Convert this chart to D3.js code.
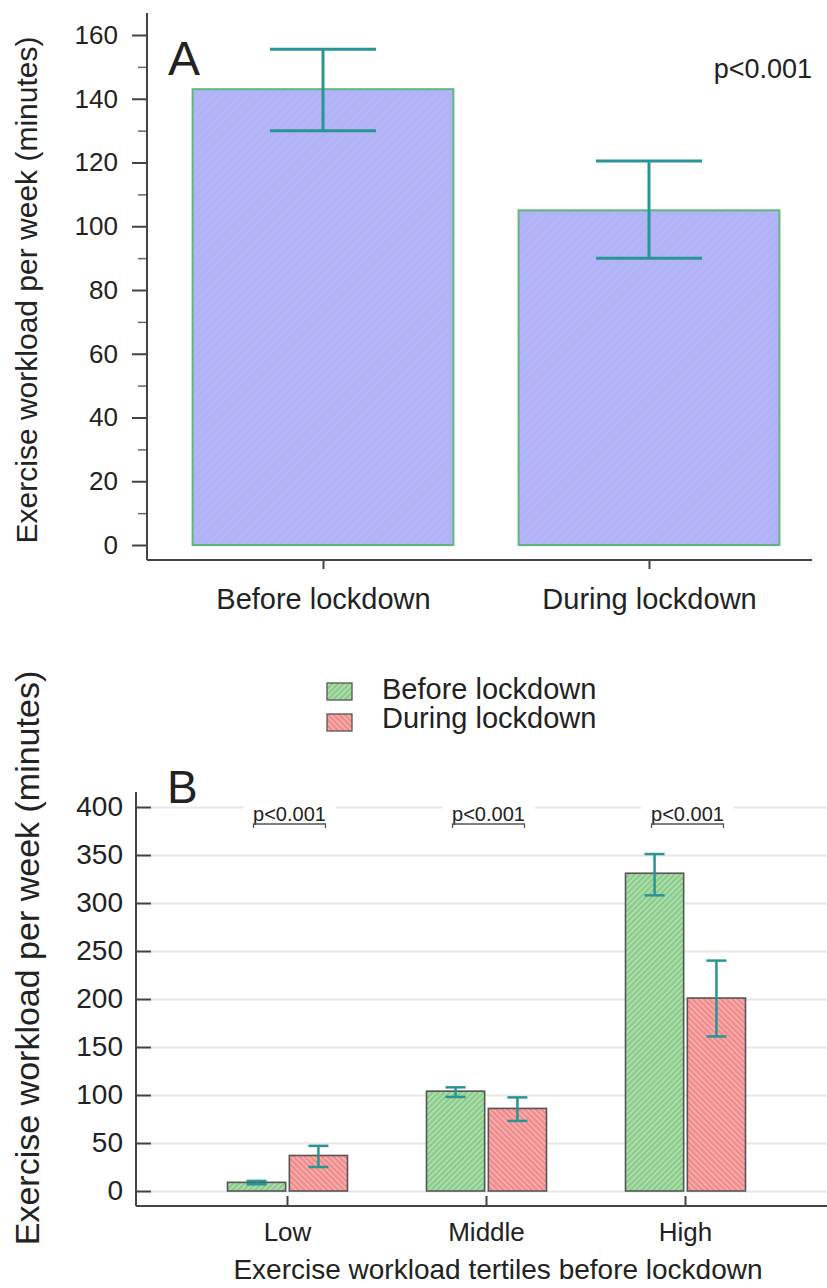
<!DOCTYPE html>
<html lang="en">
<head>
<meta charset="utf-8">
<title>Exercise workload before and during lockdown</title>
<script src="https://d3js.org/d3.v7.min.js"></script>
<style>
  body { margin: 0; background: #fff; }
  svg { font-family: "Liberation Sans", Arial, sans-serif; }
  text { fill: #222; }
</style>
</head>
<body>
<div id="chart"></div>
<script>
// ---- data (panel A) ----
var periods = ["Before lockdown", "During lockdown"];
var meanA = [143, 105];
var lowA = [130, 90];
var highA = [155.5, 120.5];
var ticksA = [0, 20, 40, 60, 80, 100, 120, 140, 160];

// ---- data (panel B) ----
var tertiles = ["Low", "Middle", "High"];
var series = ["Before lockdown", "During lockdown"];
var beforeB = [9, 104, 331];
var beforeLowB = [7, 98, 308];
var beforeHighB = [10.5, 108, 351];
var duringB = [37, 86, 201];
var duringLowB = [25, 73, 161];
var duringHighB = [47, 97.5, 240];
var pLabels = ["p<0.001", "p<0.001", "p<0.001"];
var ticksB = [0, 50, 100, 150, 200, 250, 300, 350, 400];

var W = 827, H = 1288;
var svg = d3.select("#chart").append("svg").attr("width", W).attr("height", H);

// hatching patterns
var defs = svg.append("defs");
function hatch(id, base, line, dir, gap, lw) {
  var p = defs.append("pattern").attr("id", id)
    .attr("patternUnits", "userSpaceOnUse")
    .attr("width", gap).attr("height", gap)
    .attr("patternTransform", "rotate(" + dir + ")");
  p.append("rect").attr("width", gap).attr("height", gap).attr("fill", base);
  p.append("line").attr("x1", 0).attr("y1", 0).attr("x2", 0).attr("y2", gap)
    .attr("stroke", line).attr("stroke-width", lw);
}
hatch("hatchA", "#b4b4f8", "#aeaef0", 45, 6, 2);
hatch("hatchGreen", "#8fcd8f", "#c8ecc4", 45, 4, 1.7);
hatch("hatchRed", "#f28e8e", "#fcc8c8", -45, 4, 1.7);

var errColor = "#2a9494";

// ================= Panel A =================
var xA = d3.scalePoint().domain(periods).range([160, 812]).padding(0.5);
var yA = d3.scaleLinear().domain([0, 160]).range([545, 35]);
var axisLeftA = 147, axisBottomA = 560;
var bwA = xA.step() * 0.8;

var gA = svg.append("g");

// y axis: minor + major ticks, outside
gA.append("g").attr("transform", "translate(" + axisLeftA + ",0)")
  .call(d3.axisLeft(yA).tickValues(d3.range(10, 160, 20)).tickSize(9).tickFormat(""))
  .call(function(g) { g.select(".domain").remove(); g.selectAll("line").attr("stroke", "#666").attr("stroke-width", 1.5); });
gA.append("g").attr("transform", "translate(" + axisLeftA + ",0)")
  .call(d3.axisLeft(yA).tickValues(ticksA).tickSize(15).tickPadding(14))
  .call(function(g) {
    g.select(".domain").remove();
    g.selectAll("line").attr("stroke", "#444").attr("stroke-width", 2);
    g.selectAll("text").style("font-size", "26px").attr("fill", "#222");
  });
gA.append("line").attr("x1", axisLeftA).attr("x2", axisLeftA).attr("y1", 13).attr("y2", axisBottomA)
  .attr("stroke", "#444").attr("stroke-width", 2);
gA.append("line").attr("x1", axisLeftA).attr("x2", 812).attr("y1", axisBottomA).attr("y2", axisBottomA)
  .attr("stroke", "#444").attr("stroke-width", 2);

// x axis ticks and labels
gA.append("g").attr("transform", "translate(0," + axisBottomA + ")")
  .call(d3.axisBottom(xA).tickSize(9).tickPadding(19))
  .call(function(g) {
    g.select(".domain").remove();
    g.selectAll("line").attr("stroke", "#444").attr("stroke-width", 2);
    g.selectAll("text").style("font-size", "29px").attr("fill", "#222");
  });

// bars
gA.selectAll(".barA").data(periods).enter().append("rect")
  .attr("x", function(d) { return xA(d) - bwA / 2; })
  .attr("width", bwA)
  .attr("y", function(d, i) { return yA(meanA[i]); })
  .attr("height", function(d, i) { return yA(0) - yA(meanA[i]); })
  .attr("fill", "url(#hatchA)")
  .attr("stroke", "#5fb77c").attr("stroke-width", 2);

// error bars
periods.forEach(function(d, i) {
  var cx = xA(d), cw = 53;
  gA.append("line").attr("x1", cx).attr("x2", cx).attr("y1", yA(highA[i])).attr("y2", yA(lowA[i]))
    .attr("stroke", errColor).attr("stroke-width", 3);
  [highA[i], lowA[i]].forEach(function(v) {
    gA.append("line").attr("x1", cx - cw).attr("x2", cx + cw).attr("y1", yA(v)).attr("y2", yA(v))
      .attr("stroke", errColor).attr("stroke-width", 3);
  });
});

gA.append("text").attr("x", 168).attr("y", 75).style("font-size", "48px").text("A");
gA.append("text").attr("x", 812).attr("y", 78).attr("text-anchor", "end").style("font-size", "27px").text("p<0.001");
gA.append("text").attr("transform", "translate(37,290) rotate(-90)").attr("text-anchor", "middle")
  .style("font-size", "30px").text("Exercise workload per week (minutes)");

// ================= Panel B =================
var x0 = d3.scaleBand().domain(tertiles).range([188, 785]);
var x1 = d3.scaleBand().domain(series).range([-60, 60]).paddingInner(0.06);
var yB = d3.scaleLinear().domain([0, 400]).range([1191, 807]);
var axisLeftB = 136, axisBottomB = 1206;
var fills = { "Before lockdown": "url(#hatchGreen)", "During lockdown": "url(#hatchRed)" };

var gB = svg.append("g");

// gridlines
gB.append("g").attr("transform", "translate(" + axisLeftB + ",0)")
  .call(d3.axisRight(yB).tickValues(ticksB).tickSize(W - axisLeftB).tickFormat(""))
  .call(function(g) { g.select(".domain").remove(); g.selectAll("line").attr("stroke", "#e8e8e8").attr("stroke-width", 2); });

// y ticks (inside) + labels
gB.append("g").attr("transform", "translate(" + axisLeftB + ",0)")
  .call(d3.axisRight(yB).tickValues(ticksB).tickSize(15).tickFormat(""))
  .call(function(g) { g.select(".domain").remove(); g.selectAll("line").attr("stroke", "#444").attr("stroke-width", 2); });
gB.append("g").attr("transform", "translate(" + axisLeftB + ",0)")
  .call(d3.axisLeft(yB).tickValues(ticksB).tickSize(0).tickPadding(13))
  .call(function(g) {
    g.select(".domain").remove();
    g.selectAll("text").style("font-size", "28px").attr("fill", "#222");
  });

// axis lines
gB.append("line").attr("x1", axisLeftB).attr("x2", axisLeftB).attr("y1", 792).attr("y2", axisBottomB)
  .attr("stroke", "#444").attr("stroke-width", 2);
gB.append("line").attr("x1", axisLeftB).attr("x2", W).attr("y1", axisBottomB).attr("y2", axisBottomB)
  .attr("stroke", "#444").attr("stroke-width", 2);

// x ticks (inside) + labels
gB.append("g").attr("transform", "translate(0," + axisBottomB + ")")
  .call(d3.axisTop(x0).tickSize(10).tickFormat(""))
  .call(function(g) { g.select(".domain").remove(); g.selectAll("line").attr("stroke", "#444").attr("stroke-width", 2); });
gB.append("g").attr("transform", "translate(0," + axisBottomB + ")")
  .call(d3.axisBottom(x0).tickSize(0).tickPadding(17))
  .call(function(g) {
    g.select(".domain").remove();
    g.selectAll("text").style("font-size", "26px").attr("fill", "#222");
  });

// bars
var rowsB = tertiles.map(function(t, i) {
  return [
    { t: t, s: series[0], v: beforeB[i], lo: beforeLowB[i], hi: beforeHighB[i] },
    { t: t, s: series[1], v: duringB[i], lo: duringLowB[i], hi: duringHighB[i] }
  ];
});
var groups = gB.selectAll(".grp").data(rowsB).enter().append("g")
  .attr("transform", function(d, i) { return "translate(" + (x0(tertiles[i]) + x0.bandwidth() / 2) + ",0)"; });
groups.selectAll("rect").data(function(d) { return d; }).enter().append("rect")
  .attr("x", function(d) { return x1(d.s); })
  .attr("width", x1.bandwidth())
  .attr("y", function(d) { return yB(d.v); })
  .attr("height", function(d) { return yB(0) - yB(d.v); })
  .attr("fill", function(d) { return fills[d.s]; })
  .attr("stroke", "#555").attr("stroke-width", 1.6);

// error bars
groups.selectAll(".err").data(function(d) { return d; }).enter().append("g")
  .each(function(d) {
    var g = d3.select(this), cx = x1(d.s) + x1.bandwidth() / 2, cw = 10;
    g.append("line").attr("x1", cx).attr("x2", cx).attr("y1", yB(d.hi)).attr("y2", yB(d.lo))
      .attr("stroke", errColor).attr("stroke-width", 2.5);
    [d.hi, d.lo].forEach(function(v) {
      g.append("line").attr("x1", cx - cw).attr("x2", cx + cw).attr("y1", yB(v)).attr("y2", yB(v))
        .attr("stroke", errColor).attr("stroke-width", 2.5);
    });
  });

// p-value brackets
tertiles.forEach(function(t, i) {
  var cx = x0(t) + x0.bandwidth() / 2 + 2;
  gB.append("rect").attr("x", cx - 46).attr("y", 803).attr("width", 92).attr("height", 28).attr("fill", "#fff");
  gB.append("text").attr("x", cx).attr("y", 821).attr("text-anchor", "middle")
    .style("font-size", "20px").attr("fill", "#555").text(pLabels[i]);
  gB.append("path").attr("d", "M" + (cx - 36) + ",828 L" + (cx - 36) + ",824 L" + (cx + 36) + ",824 L" + (cx + 36) + ",828")
    .attr("fill", "none").attr("stroke", "#555").attr("stroke-width", 1.3);
});

gB.append("text").attr("x", 167).attr("y", 803).style("font-size", "46px").text("B");

// legend
var legend = gB.append("g");
series.forEach(function(s, i) {
  legend.append("rect").attr("x", 327).attr("y", 683 + i * 31).attr("width", 25).attr("height", 17)
    .attr("fill", fills[s]).attr("stroke", "#555").attr("stroke-width", 1.3);
  legend.append("text").attr("x", 382).attr("y", 699 + i * 29).style("font-size", "29px").text(s);
});

gB.append("text").attr("transform", "translate(39,958) rotate(-90)").attr("text-anchor", "middle")
  .style("font-size", "34px").text("Exercise workload per week (minutes)");
gB.append("text").attr("x", 498).attr("y", 1279).attr("text-anchor", "middle")
  .style("font-size", "28px").text("Exercise workload tertiles before lockdown");
</script>
</body>
</html>
